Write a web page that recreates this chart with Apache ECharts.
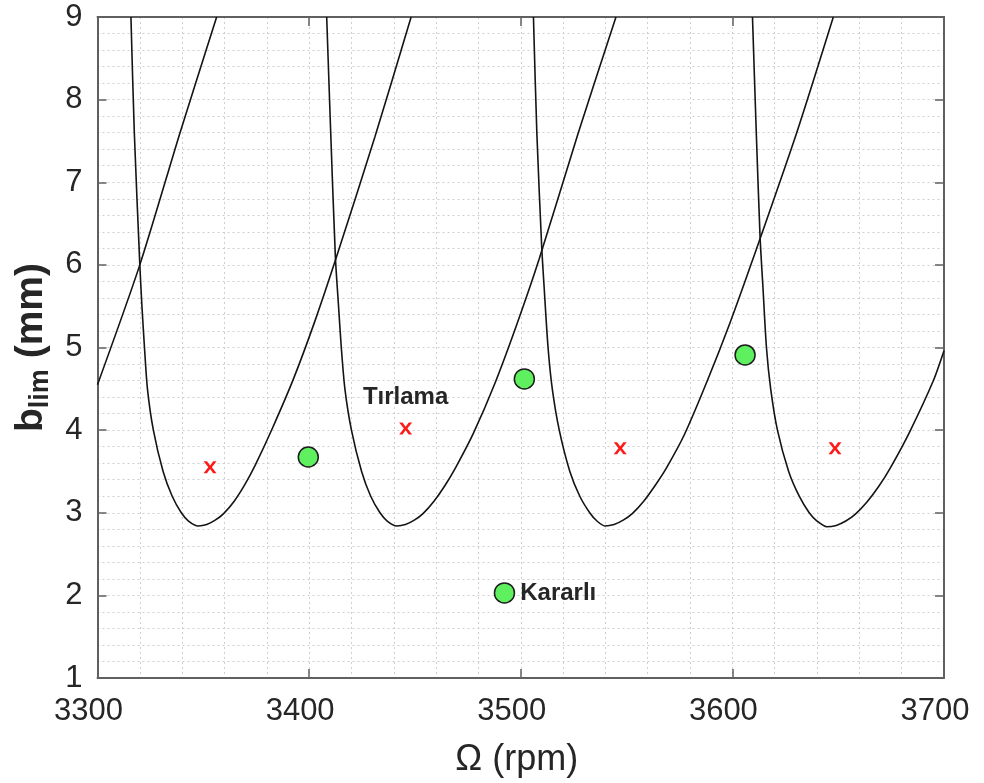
<!DOCTYPE html>
<html>
<head>
<meta charset="utf-8">
<script src="https://cdn.jsdelivr.net/npm/echarts@6/dist/echarts.min.js"></script>
<style>
html,body{margin:0;padding:0;background:#fff;}
#c{width:984px;height:783px;}
</style>
</head>
<body>
<div id="c"></div>
<script>
// ---- data ----
const xRange = [3300, 3700];
const yRange = [1, 9];
const xTickLabels = ['3300', '3400', '3500', '3600', '3700'];
const yTickLabels = ['1', '2', '3', '4', '5', '6', '7', '8', '9'];

const lobe0 = [[3300, 4.55], [3320.0, 6.0], [3339, 7.6], [3356.3, 9]];
const lobe1 = [[3315.8, 9], [3317.4, 7.6], [3320.0, 6.0], [3321.0, 5.5], [3322.2, 5.0], [3323.6, 4.5],
  [3326.4, 4.0], [3331.0, 3.5], [3335.3, 3.2], [3339.6, 3.0], [3343.0, 2.9], [3347.6, 2.84],
  [3351.6, 2.857], [3355.6, 2.91], [3359.6, 2.99], [3364.6, 3.14], [3369.6, 3.34], [3374.6, 3.58],
  [3382.6, 4.02], [3392.6, 4.62], [3402.6, 5.31], [3412.6, 6.07], [3431.1, 7.55], [3448.2, 9]];
const lobe2 = [[3408.3, 9], [3410.2, 7.6], [3412.4, 6.1], [3413.9, 5.5], [3415.2, 5.0], [3416.9, 4.5],
  [3420.0, 4.0], [3424.8, 3.5], [3429.1, 3.2], [3433.5, 3.0], [3436.9, 2.9], [3441.4, 2.84],
  [3445.5, 2.857], [3449.7, 2.91], [3453.8, 2.99], [3459.0, 3.14], [3464.2, 3.33], [3469.3, 3.55],
  [3477.6, 3.96], [3488.0, 4.58], [3498.3, 5.29], [3508.7, 6.07], [3527.2, 7.6], [3545.0, 9]];
const lobe3 = [[3506.0, 9], [3507.6, 7.6], [3509.9, 6.22], [3511.0, 5.75], [3512.9, 5.0], [3514.9, 4.5],
  [3518.2, 4.0], [3523.2, 3.5], [3527.9, 3.2], [3532.6, 3.0], [3536.0, 2.9], [3539.8, 2.84],
  [3544.1, 2.857], [3548.4, 2.91], [3552.7, 2.99], [3558.1, 3.14], [3563.5, 3.33], [3568.8, 3.54],
  [3577.4, 3.95], [3588.2, 4.6], [3598.9, 5.3], [3609.7, 6.07], [3630.4, 7.6], [3647.7, 9]];
const lobe4 = [[3609.5, 9], [3611.3, 7.6], [3613.1, 6.33], [3614.4, 5.75], [3616.1, 5.0], [3618.1, 4.5],
  [3621.3, 4.0], [3626.6, 3.5], [3631.6, 3.2], [3636.3, 3.0], [3640.0, 2.9], [3644.6, 2.83],
  [3649.1, 2.847], [3653.6, 2.9], [3658.0, 2.98], [3663.6, 3.13], [3669.2, 3.32], [3674.8, 3.55],
  [3683.8, 3.98], [3695.0, 4.6], [3700, 4.96]];

const stablePoints = [[3399.6, 3.675], [3501.7, 4.62], [3606, 4.91]];
const stableLabelPoint = [3492.3, 2.03];
const chatterPoints = [[3353.2, 3.55], [3547, 3.78], [3648.5, 3.78]];
const chatterLabelPoint = [3445.6, 4.02];
const stableText = 'Kararlı';
const chatterText = 'Tırlama';

// ---- chart ----
const FONT = '"Liberation Sans", Arial, sans-serif';
const frame = '#606060';
const gridCol = '#cfcfcf';
const txt = '#262626';
const xSymbol = 'path://M0,0 L3.4,0 L6.5,4.3 L9.6,0 L13,0 L8.3,6 L13,12 L9.6,12 L6.5,7.7 L3.4,12 L0,12 L4.7,6 Z';

const lobeStyle = { color: '#141414', width: 1.6 };
function lobeSeries(d) {
  return { type: 'line', data: d, showSymbol: false, smooth: 0.25,
    lineStyle: lobeStyle, clip: true, silent: true, z: 3 };
}

const chart = echarts.init(document.getElementById('c'), null, { renderer: 'canvas' });
chart.setOption({
  animation: false,
  backgroundColor: '#fff',
  grid: { left: 97.5, right: 40, top: 17, bottom: 103, containLabel: false },
  xAxis: [
    { type: 'value', min: xRange[0], max: xRange[1], interval: 100,
      axisLine: { show: true, onZero: false, lineStyle: { color: frame, width: 2 } },
      axisTick: { show: true, inside: true, length: 9, lineStyle: { color: frame, width: 1.5 } },
      axisLabel: { color: txt, fontSize: 31, fontFamily: FONT, margin: 18, padding: [0, 18, 0, 0],
        formatter: v => xTickLabels[Math.round((v - xRange[0]) / 100)] },
      splitLine: { show: true, lineStyle: { color: gridCol, width: 1, type: [2, 3] } },
      minorTick: { show: false, splitNumber: 5 },
      minorSplitLine: { show: true, lineStyle: { color: gridCol, width: 1, type: [2, 3] } },
      name: 'Ω (rpm)', nameLocation: 'middle', nameGap: 64,
      nameTextStyle: { color: txt, fontSize: 36, fontFamily: FONT, padding: [0, 8, 0, 0] } },
    { type: 'value', position: 'top', min: xRange[0], max: xRange[1], interval: 100,
      axisLine: { show: true, onZero: false, lineStyle: { color: frame, width: 2 } },
      axisTick: { show: true, inside: true, length: 9, lineStyle: { color: frame, width: 1.5 } },
      axisLabel: { show: false }, splitLine: { show: false } }
  ],
  yAxis: [
    { type: 'value', min: yRange[0], max: yRange[1], interval: 1,
      axisLine: { show: true, onZero: false, lineStyle: { color: frame, width: 2 } },
      axisTick: { show: true, inside: true, length: 9, lineStyle: { color: frame, width: 1.5 } },
      axisLabel: { color: txt, fontSize: 31, fontFamily: FONT, margin: 15,
        formatter: v => yTickLabels[Math.round(v - yRange[0])] },
      splitLine: { show: true, lineStyle: { color: gridCol, width: 1, type: [2, 3] } },
      minorTick: { show: false, splitNumber: 5 },
      minorSplitLine: { show: true, lineStyle: { color: gridCol, width: 1, type: [2, 3] } },
      name: '{b|b}{s|lim}{b| (mm)}', nameLocation: 'middle', nameGap: 33, nameRotate: 90,
      nameTextStyle: { color: txt, fontFamily: FONT,
        rich: {
          b: { fontSize: 39, fontWeight: 'bold', fontFamily: FONT, color: txt, lineHeight: 43, verticalAlign: 'top' },
          s: { fontSize: 27, fontWeight: 'bold', fontFamily: FONT, color: txt, lineHeight: 10, verticalAlign: 'bottom' }
        } } },
    { type: 'value', position: 'right', min: yRange[0], max: yRange[1], interval: 1,
      axisLine: { show: true, onZero: false, lineStyle: { color: frame, width: 2 } },
      axisTick: { show: true, inside: true, length: 9, lineStyle: { color: frame, width: 1.5 } },
      axisLabel: { show: false }, splitLine: { show: false } }
  ],
  series: [
    lobeSeries(lobe0), lobeSeries(lobe1), lobeSeries(lobe2), lobeSeries(lobe3), lobeSeries(lobe4),
    { type: 'scatter', symbol: xSymbol, symbolSize: [13, 12], z: 5,
      itemStyle: { color: '#ff1a1a', opacity: 1 },
      data: chatterPoints.concat([{ value: chatterLabelPoint,
        label: { show: true, position: 'top', distance: 13, formatter: chatterText,
          color: txt, fontSize: 24, fontWeight: 'bold', fontFamily: FONT } }]) },
    { type: 'scatter', symbol: 'circle', symbolSize: 20, z: 6,
      itemStyle: { color: '#5ef05e', borderColor: '#1c1c1c', borderWidth: 1.5, opacity: 1 },
      data: stablePoints.concat([{ value: stableLabelPoint,
        label: { show: true, position: 'right', distance: 5, formatter: stableText,
          color: txt, fontSize: 24, fontWeight: 'bold', fontFamily: FONT } }]) }
  ]
});
</script>
</body>
</html>
